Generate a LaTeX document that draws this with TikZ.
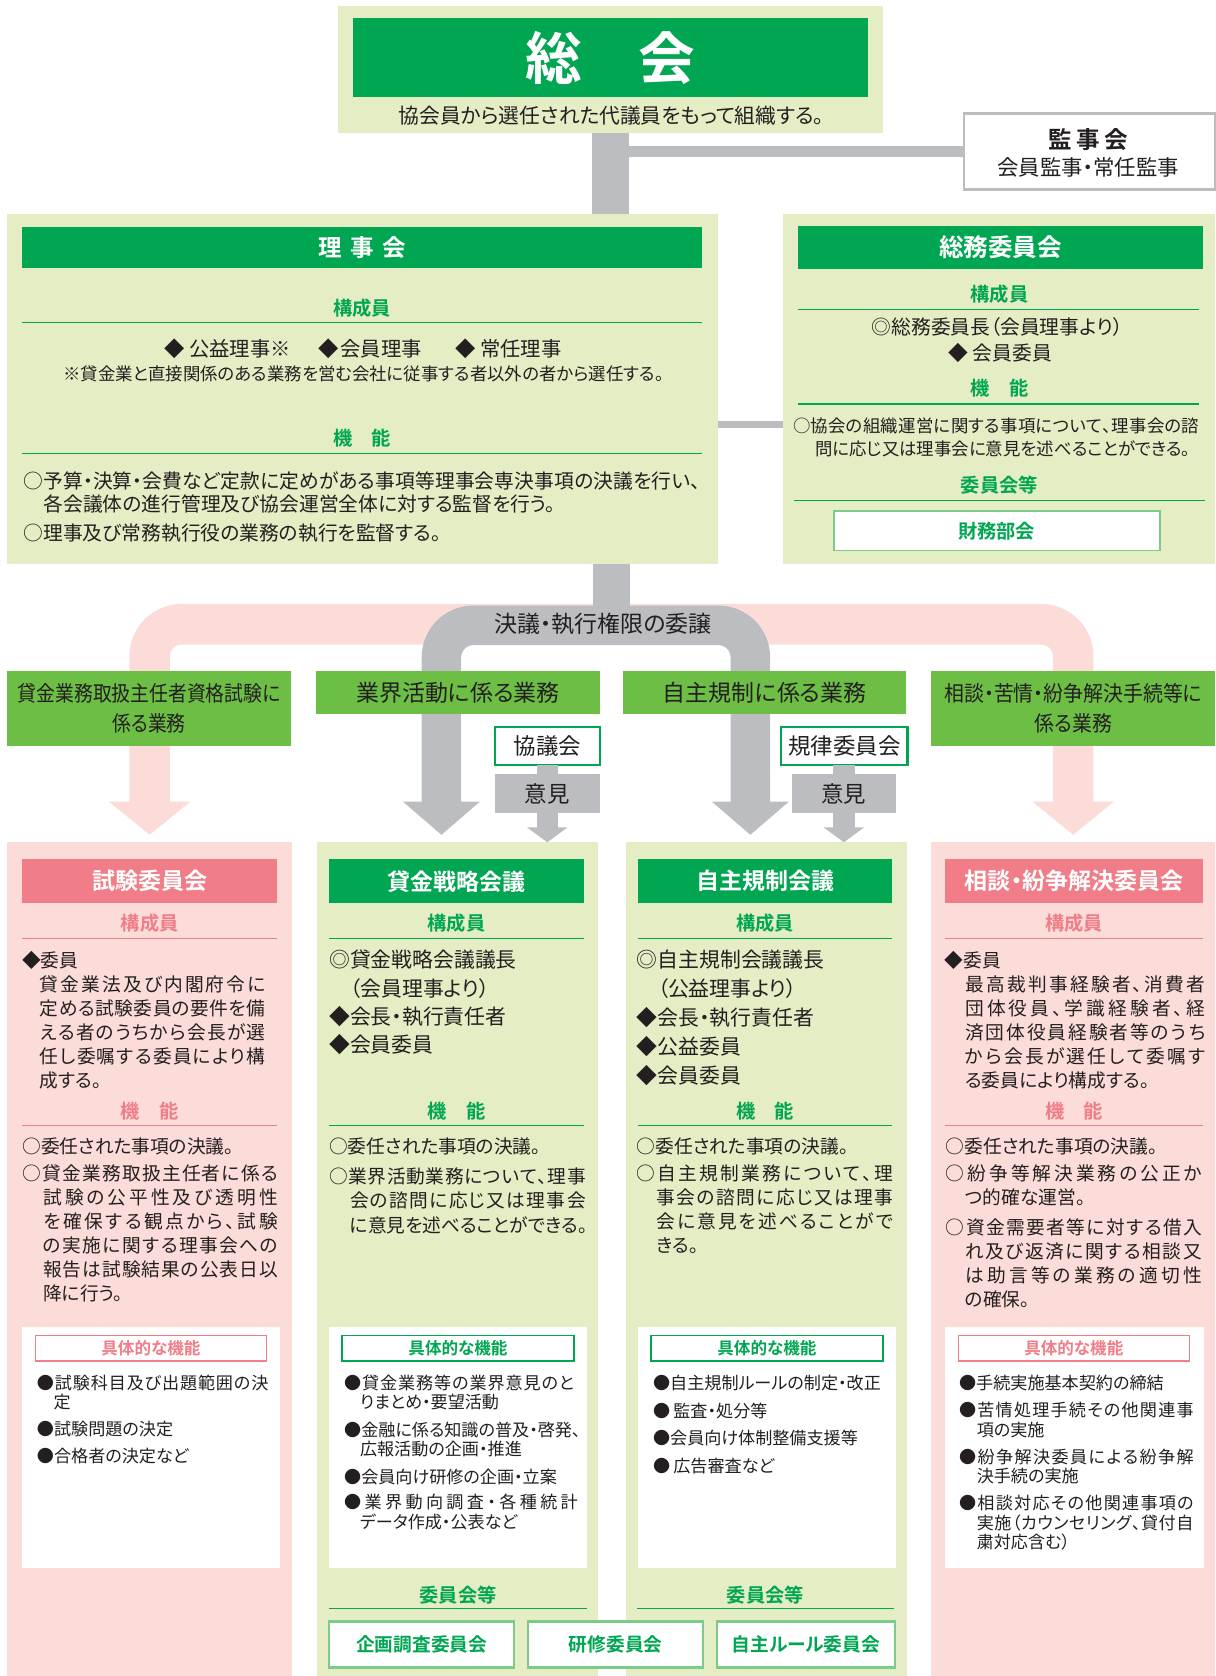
\documentclass[tikz,border=0pt]{standalone}
\usepackage{fontspec}
\setmainfont{Noto Sans CJK JP}[BoldFont={Noto Sans CJK JP Bold},RawFeature=+palt]
\usetikzlibrary{calc}
\definecolor{dg}{HTML}{00A651}
\definecolor{lg}{HTML}{E5EDC4}
\definecolor{catg}{HTML}{6DBE45}
\definecolor{lp}{HTML}{FBDCD8}
\definecolor{hp}{HTML}{F07D88}
\definecolor{gbc}{HTML}{BCBDC0}
\definecolor{ink}{HTML}{231F20}
\definecolor{lgl}{HTML}{7DCB8A}
\newcommand\fsz[2]{\fontsize{#1}{#2}\selectfont}
\newcommand\Tst{\rule{0pt}{1em}}
\def\JFirst#1{#1\JRest}
\def\JRest#1{\ifx#1\relax\else\hfil#1\expandafter\JRest\fi}
\newcommand\JS[2]{\hbox to #1pt{\JFirst#2\relax}}
\newcommand\rbox[7]{\node[inner sep=0pt,outer sep=0pt,minimum width={#4-#2},minimum height={#5-#3},#6] (#1) at ({(#2+#4)/2},{(#3+#5)/2}) {#7};}
\tikzset{
  tx/.style={inner sep=0pt,outer sep=0pt,anchor=north west,align=left,text=ink,font=\fsz{17.5}{22.5}},
  bl/.style={tx,font=\fsz{16}{18}},
  sec/.style={inner sep=0pt,font=\fsz{18}{20}\bfseries},
  hdr/.style={text=white,font=\fsz{21.5}{24}\bfseries},
  lbl/.style={inner sep=0pt,text=ink},
  cat/.style={fill=catg,text=ink,align=center},
  gl/.style={dg,line width=1.2pt},
  pl/.style={hp,line width=1.2pt},
  ttlG/.style={fill=white,draw=dg,line width=1.2pt,text=dg,font=\fsz{15.5}{17}\bfseries},
  ttlP/.style={fill=white,draw=hp,line width=1.2pt,text=hp,font=\fsz{15.5}{17}\bfseries},
  cbox/.style={fill=white,draw=lgl,line width=2pt,text=dg,font=\fsz{17.5}{20}\bfseries},
  wbox/.style={fill=white,draw=dg,line width=2pt,text=ink,font=\fsz{21}{24}},
  gbox/.style={fill=gbc,text=ink,font=\fsz{21}{24}}
}
\begin{document}
\begin{tikzpicture}[x=1pt,y=-1pt]
\useasboundingbox (0,0) rectangle (1137,1568);

% ---------- big arrows (behind) ----------
\coordinate (pkL) at (140,752);
\coordinate (pkR) at (1004,752);
\draw[lp,line width=38pt,rounded corners=30pt] (pkL) -- (140,584) -- (1004,584) -- (pkR);
\fill[lp] (102,750) -- (178,750) -- (140,781) -- cycle;
\fill[lp] (966,750) -- (1042,750) -- (1004,781) -- cycle;
\coordinate (gyL) at (413,752);
\coordinate (gyR) at (702,752);
\draw[gbc,line width=37pt,rounded corners=30pt] (gyL) -- (413,585) -- (702,585) -- (gyR);
\fill[gbc] (377,750) -- (449,750) -- (413,781) -- cycle;
\fill[gbc] (666,750) -- (738,750) -- (702,781) -- cycle;

% ---------- 総会 ----------
\rbox{soukai}{316}{6}{826}{124}{fill=lg}{}
\rbox{soukaiH}{330}{17}{812}{91}{fill=dg,text=white,font=\fsz{53}{60}\bfseries}{総　会}
\node[lbl,font=\fsz{19.4}{22}] (soukaiS) at (572,108) {協会員から選任された代議員をもって組織する。};

% ---------- 監事会 ----------
\rbox{kanji}{902}{106}{1137}{177}{fill=white,draw=gbc,line width=2.5pt}{}
\node[lbl,font=\fsz{22}{24}\bfseries] (kanjiT) at (1018,131) {監\hspace{4pt}事\hspace{4pt}会};
\node[lbl,font=\fsz{20}{22}] (kanjiS) at (1018,157) {会員監事・常任監事};

% ---------- 理事会 ----------
\rbox{rijikai}{7}{200}{672}{528}{fill=lg}{}
\rbox{rijikaiH}{21}{212}{657}{251}{fill=dg,text=white,font=\fsz{22}{24}\bfseries}{理\hspace{8pt}事\hspace{8pt}会}
\node[sec,text=dg] (rjK) at (339,288) {構成員};
\draw[gl] (21,301.5) -- (657,301.5);
\node[lbl,font=\fsz{19}{22},anchor=west] (rjM1) at (153.7,326) {◆\hspace{4pt}公益理事※};
\node[lbl,font=\fsz{19}{22},anchor=west] (rjM2) at (297.5,326) {◆\hspace{2pt}会員理事};
\node[lbl,font=\fsz{19}{22},anchor=west] (rjM3) at (426,326) {◆\hspace{4pt}常任理事};
\node[lbl,font=\fsz{16.3}{18}] (rjN) at (340,350) {※貸金業と直接関係のある業務を営む会社に従事する者以外の者から選任する。};
\node[sec,text=dg] (rjF) at (339,410) {機　能};
\draw[gl] (21,424) -- (657,424);
\node[tx,font=\fsz{18.5}{21.6}] (rjFT) at (22,438.5) {\Tst\JS{633}{○予算・決算・会費など定款に定めがある事項等理事会専決事項の決議を行い、}\\
\hspace*{18.8pt}各会議体の進行管理及び協会運営全体に対する監督を行う。\\[5.8pt]
○理事及び常務執行役の業務の執行を監督する。};

% ---------- 総務委員会 ----------
\rbox{soumu}{733}{200}{1137}{528}{fill=lg}{}
\rbox{soumuH}{747}{211}{1125}{252}{fill=dg,text=white,font=\fsz{23}{25}\bfseries}{総務委員会}
\node[sec,text=dg] (smK) at (935,275) {構成員};
\draw[gl] (747,289.5) -- (1122,289.5);
\node[lbl,font=\fsz{18.5}{22}] (smM1) at (933,306) {◎総務委員長（会員理事より）};
\node[lbl,font=\fsz{18.5}{22}] (smM2) at (936,330) {◆\hspace{4pt}会員委員};
\node[sec,text=dg] (smF) at (935,363) {機　能};
\draw[gl] (747,378) -- (1122,378);
\node[tx,font=\fsz{16.3}{21}] (smFT) at (742,388.4) {\Tst\JS{380}{○協会の組織運営に関する事項について、理事会の諮}\\
\hspace*{20.7pt}問に応じ又は理事会に意見を述べることができる。};
\node[sec,text=dg] (smC) at (935,454) {委員会等};
\draw[gl] (743,468) -- (1127,468);
\rbox{zaimu}{780}{478}{1085}{515}{fill=white,draw=lgl,line width=1.5pt,text=dg,font=\fsz{18}{20}\bfseries}{財務部会}

% ---------- connectors ----------
\draw[gbc,line width=34pt] (soukai.south) -- (soukai.south |- rijikai.north);
\draw[gbc,line width=10pt] (soukai.south |- kanji.west) -- (kanji.west);
\coordinate (rsy) at (700,397);
\draw[gbc,line width=7pt] (rijikai.east |- rsy) -- (soumu.west |- rsy);
\coordinate (bandc) at (572,590);
\draw[gbc,line width=34pt] (rijikai.south -| bandc) -- (bandc);
\node[lbl,font=\fsz{21.5}{24}] (ketsugi) at (564,584) {決議・執行権限の委譲};

% ---------- category boxes ----------
\rbox{cat1}{7}{628}{272}{698}{cat,font=\fsz{20}{28}}{\scalebox{0.88}[1]{貸金業務取扱主任者資格試験に}\\\scalebox{0.88}[1]{係る業務}}
\rbox{cat2}{296}{628}{561}{668}{cat,font=\fsz{21.5}{24}}{業界活動に係る業務}
\rbox{cat3}{583}{628}{848}{668}{cat,font=\fsz{21.5}{24}}{自主規制に係る業務}
\rbox{cat4}{871}{628}{1137}{698}{cat,font=\fsz{20}{28}}{\scalebox{0.93}[1]{相談・苦情・紛争解決手続等に}\\\scalebox{0.93}[1]{係る業務}}

\rbox{kyogi}{463}{680}{561}{716}{wbox}{協議会}
\rbox{iken1}{463}{724}{561}{761}{gbox}{意見}
\rbox{kiritsu}{731}{680}{849}{716}{wbox}{規律委員会}
\rbox{iken2}{741}{724}{838}{761}{gbox}{意見}
\draw[gbc,line width=20pt] (kyogi.south) -- (iken1.north);
\draw[gbc,line width=20pt] (kiritsu.south -| iken2.north) -- (iken2.north);
\coordinate (a1) at (512,776);
\coordinate (a2) at (789.5,776);
\draw[gbc,line width=20pt] (iken1.south) -- (a1);
\draw[gbc,line width=20pt] (iken2.south) -- (a2);
\fill[gbc] (493,774) -- (531,774) -- (512,788) -- cycle;
\fill[gbc] (770.5,774) -- (808.5,774) -- (789.5,788) -- cycle;

% ---------- panel 1 試験委員会 ----------
\rbox{p1}{7}{788}{273}{1568}{fill=lp}{}
\rbox{p1H}{21}{804}{259}{845}{fill=hp,hdr}{試験委員会}
\node[sec,text=hp] (p1K) at (140,864) {構成員};
\draw[pl] (21,878) -- (259,878);
\node[tx] (p1M) at (20.6,887.6) {\Tst◆委員\\
\hspace*{16.8pt}\JS{211}{貸金業法及び内閣府令に}\\
\hspace*{16.8pt}\JS{211}{定める試験委員の要件を備}\\
\hspace*{16.8pt}\JS{211}{える者のうちから会長が選}\\
\hspace*{16.8pt}\JS{211}{任し委嘱する委員により構}\\
\hspace*{16.8pt}成する。};
\node[sec,text=hp] (p1F) at (140,1040) {機　能};
\draw[pl] (21,1053) -- (259,1053);
\node[tx] (p1FT) at (21,1061.6) {\Tst○委任された事項の決議。\\[3pt]
\JS{239}{○貸金業務取扱主任者に係る}\\
\hspace*{19.5pt}\JS{219.5}{試験の公平性及び透明性}\\
\hspace*{19.5pt}\JS{219.5}{を確保する観点から、試験}\\
\hspace*{19.5pt}\JS{219.5}{の実施に関する理事会への}\\
\hspace*{19.5pt}\JS{219.5}{報告は試験結果の公表日以}\\
\hspace*{19.5pt}降に行う。};
\rbox{p1W}{21}{1241.5}{262}{1467}{fill=white}{}
\rbox{p1T}{33}{1249.3}{249.4}{1273.3}{ttlP}{具体的な機能}
\node[bl] (p1B) at (34.6,1284.1) {\Tst\JS{216.5}{●試験科目及び出題範囲の決}\\
\hspace*{15.6pt}定\\[7pt]
●試験問題の決定\\[7pt]
●合格者の決定など};

% ---------- panel 2 貸金戦略会議 ----------
\rbox{p2}{297}{788}{559}{1568}{fill=lg}{}
\rbox{p2H}{308}{804}{546.5}{845}{fill=dg,hdr}{貸金戦略会議}
\node[sec,text=dg] (p2K) at (427,864) {構成員};
\draw[gl] (308,878) -- (546.5,878);
\node[tx,font=\fsz{19.5}{26.5}] (p2M) at (308,885.9) {\Tst◎貸金戦略会議議長\\
\hspace*{19.5pt}（会員理事より）\\
◆会長・執行責任者\\
◆会員委員};
\node[sec,text=dg] (p2F) at (427,1040) {機　能};
\draw[gl] (308,1053) -- (546.5,1053);
\node[tx] (p2FT) at (308,1061.6) {\Tst○委任された事項の決議。\\[6pt]
\JS{240}{○業界活動業務について、理事}\\
\hspace*{19.5pt}\JS{220.5}{会の諮問に応じ又は理事会}\\
\hspace*{19.5pt}に意見を述べることができる。};
\rbox{p2W}{308}{1241.5}{549}{1467}{fill=white}{}
\rbox{p2T}{320}{1249.3}{537}{1273.3}{ttlG}{具体的な機能}
\node[bl] (p2B) at (322,1284.1) {\Tst\JS{215}{●貸金業務等の業界意見のと}\\
\hspace*{14.8pt}りまとめ・要望活動\\[7.5pt]
●金融に係る知識の普及・啓発、\\
\hspace*{14.8pt}広報活動の企画・推進\\[8pt]
●会員向け研修の企画・立案\\[6pt]
\JS{218.6}{●業界動向調査・各種統計}\\
\hspace*{14.8pt}データ作成・公表など};
\node[sec,text=dg] (p2C) at (428.5,1492.6) {委員会等};
\draw[gl] (308,1504.5) -- (549,1504.5);

% ---------- panel 3 自主規制会議 ----------
\rbox{p3}{586}{788}{849}{1568}{fill=lg}{}
\rbox{p3H}{597}{804}{834.7}{845}{fill=dg,hdr}{自主規制会議}
\node[sec,text=dg] (p3K) at (716,864) {構成員};
\draw[gl] (597,878) -- (834.7,878);
\node[tx,font=\fsz{19.5}{27}] (p3M) at (595.8,885.9) {\Tst◎自主規制会議議長\\
\hspace*{19.5pt}（公益理事より）\\
◆会長・執行責任者\\
◆公益委員\\
◆会員委員};
\node[sec,text=dg] (p3F) at (716,1040) {機　能};
\draw[gl] (597,1053) -- (834.7,1053);
\node[tx] (p3FT) at (595.8,1061.6) {\Tst○委任された事項の決議。\\[3pt]
\JS{240}{○自主規制業務について、理}\\
\hspace*{18.7pt}\JS{221.5}{事会の諮問に応じ又は理事}\\
\hspace*{18.7pt}\JS{221.5}{会に意見を述べることがで}\\
\hspace*{18.7pt}きる。};
\rbox{p3W}{597}{1241.5}{838.6}{1467}{fill=white}{}
\rbox{p3T}{609}{1249.3}{826}{1273.3}{ttlG}{具体的な機能}
\node[bl] (p3B) at (611,1284.1) {\Tst●自主規制ルールの制定・改正\\[7.7pt]
●\hspace*{3pt}監査・処分等\\[7.7pt]
●会員向け体制整備支援等\\[7.7pt]
●\hspace*{3pt}広告審査など};
\node[sec,text=dg] (p3C) at (716,1492.6) {委員会等};
\draw[gl] (595.6,1504.5) -- (836.6,1504.5);

% ---------- panel 4 相談・紛争解決委員会 ----------
\rbox{p4}{871}{788}{1137}{1568}{fill=lp}{}
\rbox{p4H}{884}{804}{1125.5}{845}{fill=hp,hdr}{相談・紛争解決委員会}
\node[sec,text=hp] (p4K) at (1005,864) {構成員};
\draw[pl] (884,878) -- (1125.5,878);
\node[tx] (p4M) at (884,887.6) {\Tst◆委員\\
\hspace*{19pt}\JS{224.6}{最高裁判事経験者、消費者}\\
\hspace*{19pt}\JS{224.6}{団体役員、学識経験者、経}\\
\hspace*{19pt}\JS{224.6}{済団体役員経験者等のうち}\\
\hspace*{19pt}\JS{224.6}{から会長が選任して委嘱す}\\
\hspace*{19pt}る委員により構成する。};
\node[sec,text=hp] (p4F) at (1005,1040) {機　能};
\draw[pl] (884,1053) -- (1125.5,1053);
\node[tx] (p4FT) at (885,1061.6) {\Tst○委任された事項の決議。\\[3pt]
\JS{239.5}{○紛争等解決業務の公正か}\\
\hspace*{18pt}つ的確な運営。\\[5.5pt]
\JS{239.5}{○資金需要者等に対する借入}\\
\hspace*{18pt}\JS{221.5}{れ及び返済に関する相談又}\\
\hspace*{18pt}\JS{221.5}{は助言等の業務の適切性}\\
\hspace*{18pt}の確保。};
\rbox{p4W}{884}{1241.5}{1126}{1467}{fill=white}{}
\rbox{p4T}{896.5}{1249.3}{1112.7}{1273.3}{ttlP}{具体的な機能}
\node[bl] (p4B) at (897.3,1284.1) {\Tst●手続実施基本契約の締結\\[7.5pt]
\JS{219.5}{●苦情処理手続その他関連事}\\
\hspace*{16.5pt}項の実施\\[7.5pt]
\JS{219.5}{●紛争解決委員による紛争解}\\
\hspace*{16.5pt}決手続の実施\\[7.5pt]
\JS{219.5}{●相談対応その他関連事項の}\\
\hspace*{16.5pt}\JS{202.7}{実施（カウンセリング、貸付自}\\
\hspace*{16.5pt}粛対応含む）};

% ---------- committees ----------
\rbox{kikaku}{308}{1517}{481}{1560}{cbox}{企画調査委員会}
\rbox{kenshu}{494}{1517}{658}{1560}{cbox}{研修委員会}
\rbox{jishu}{671}{1517}{837}{1560}{cbox}{自主ルール委員会}
\end{tikzpicture}
\end{document}
